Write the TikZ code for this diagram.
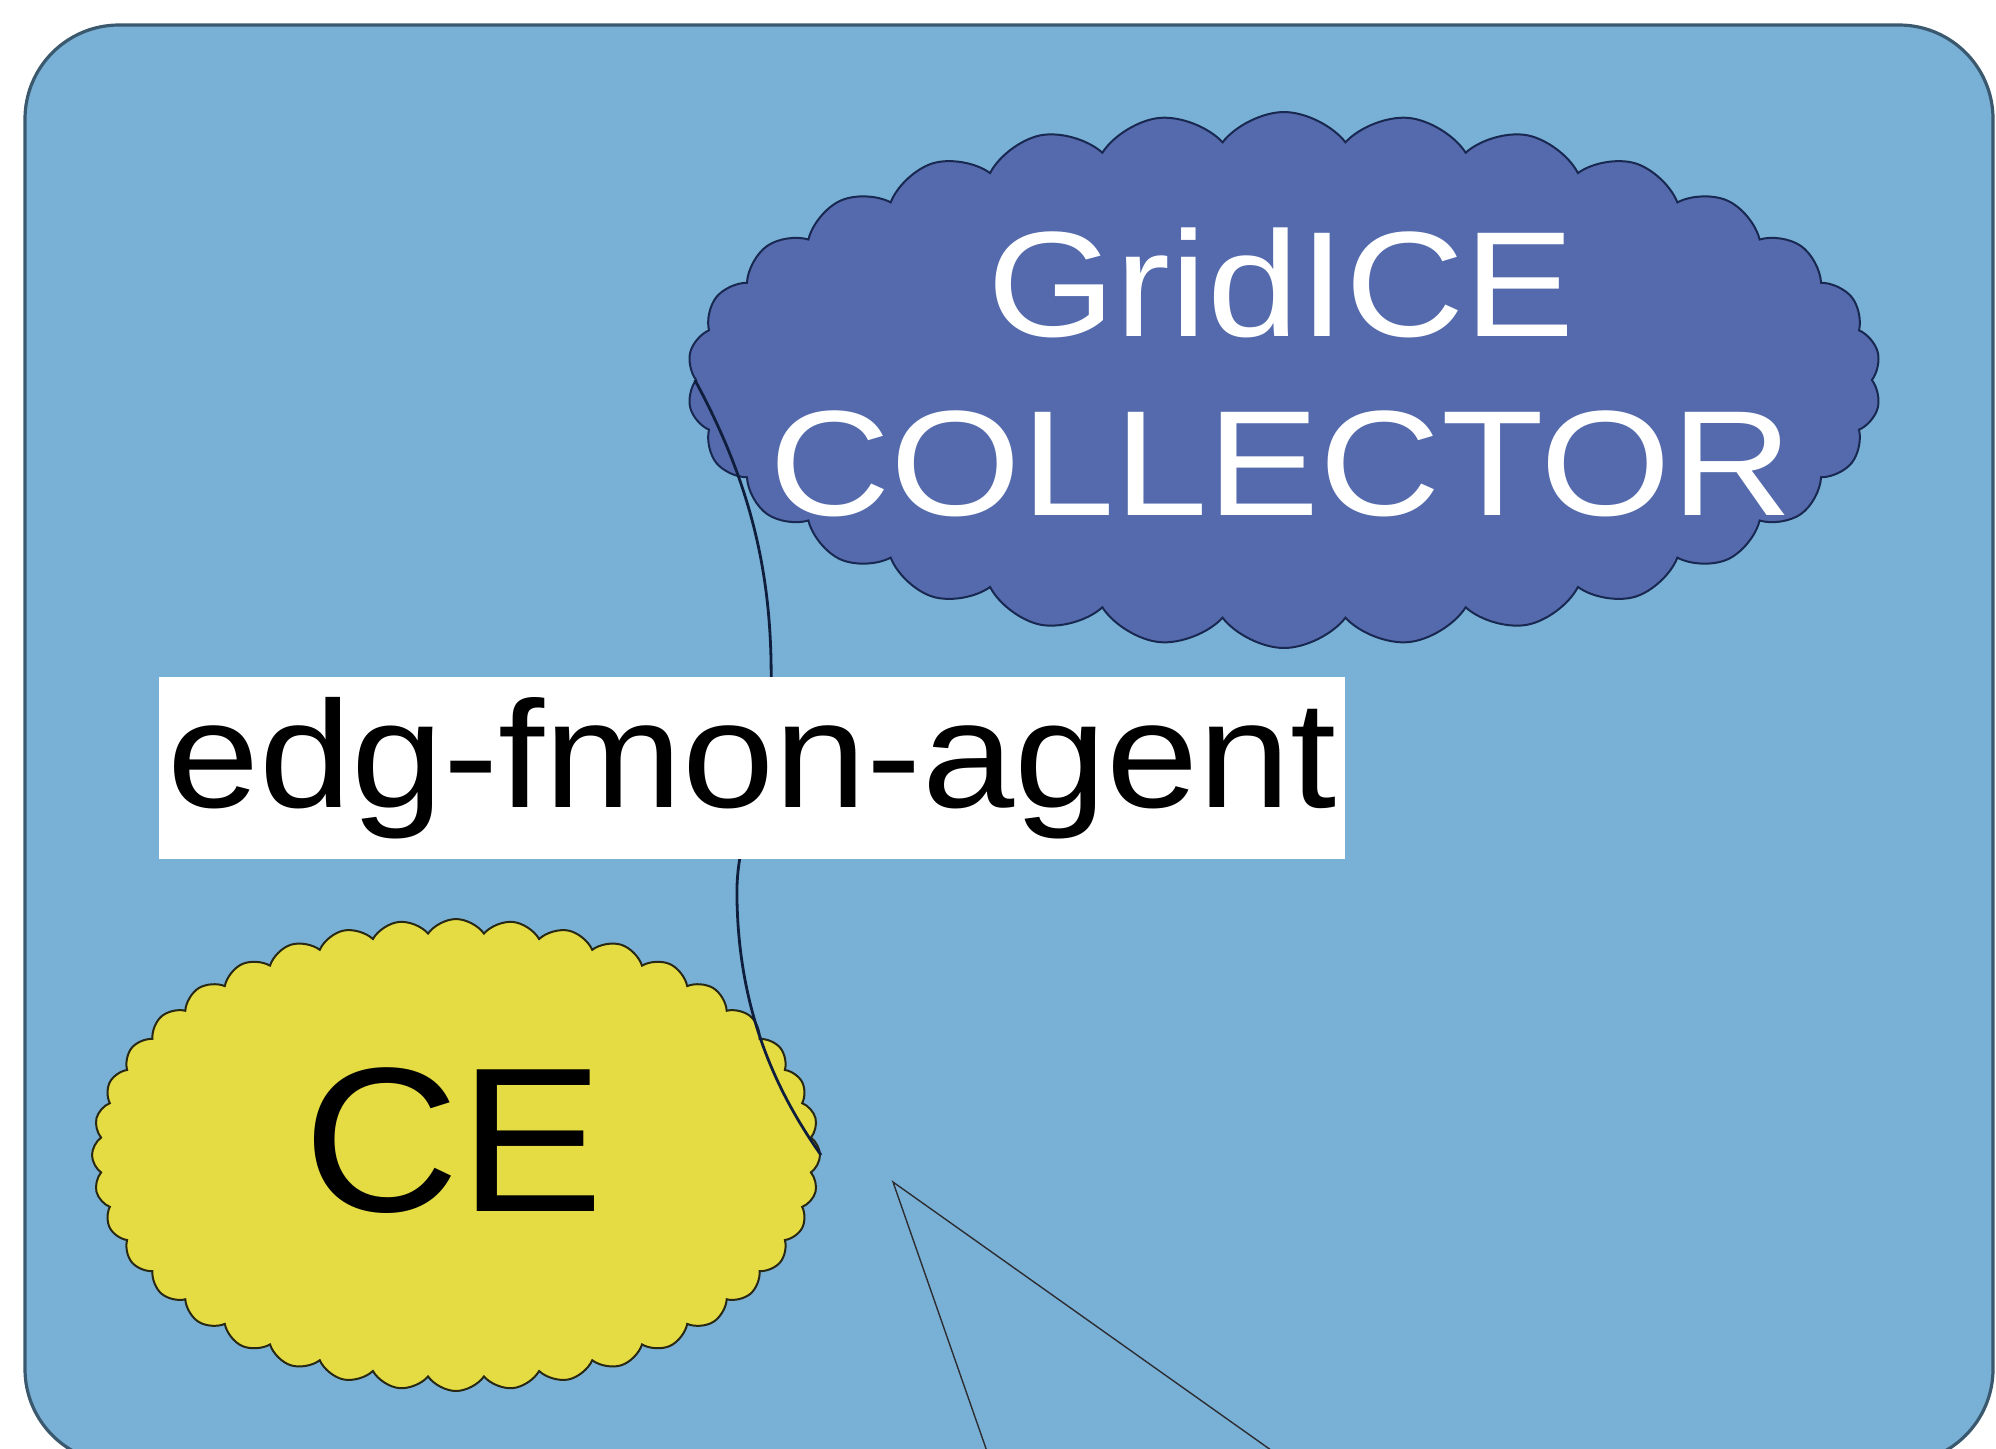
\documentclass[tikz,border=0pt]{standalone}
\usepackage{fontspec}
\usepackage{graphicx}
\setmainfont{Liberation Sans}
\usetikzlibrary{shapes.symbols}
\definecolor{bgblue}{RGB}{121,177,214}
\definecolor{bgedge}{RGB}{58,88,110}
\definecolor{cloudblue}{RGB}{84,106,172}
\definecolor{cloudedge}{RGB}{25,40,80}
\definecolor{ceyellow}{RGB}{228,220,66}
\definecolor{ceedge}{RGB}{40,40,20}
\definecolor{connnavy}{RGB}{15,30,60}
\definecolor{thingray}{RGB}{45,45,50}
\begin{document}
\begin{tikzpicture}[x=0.5pt,y=-0.5pt,
  panelbox/.style={rectangle, rounded corners=47pt, fill=bgblue, draw=bgedge, line width=1.6pt, inner sep=0pt},
  cloudbase/.style={cloud, cloud ignores aspect, inner sep=0pt, line width=1pt},
  gridcloud/.style={cloudbase, fill=cloudblue, draw=cloudedge, cloud puffs=30, cloud puff arc=105},
  cecloud/.style={cloudbase, fill=ceyellow, draw=ceedge, cloud puffs=40, cloud puff arc=110},
  conn/.style={draw=connnavy, line width=1.4pt},
  thinline/.style={draw=thingray, line width=0.7pt},
  agentbox/.style={rectangle, fill=white, inner sep=0pt},
]
\useasboundingbox (0,0) rectangle (1996,1448);
\clip (0,0) rectangle (1996,1448);
\fill[white] (0,0) rectangle (1996,1448);
% panel
\node[panelbox, minimum width=984pt, minimum height=719pt] (panel) at (1009,744) {};
% clouds
\node[gridcloud, minimum width=597pt, minimum height=268pt] (gridice) at (1284,380) {};
\node[cecloud, minimum width=364pt, minimum height=236pt] (ce) at (456,1155) {};
% texts in clouds
\node[text=white, align=center, inner sep=0pt, font=\fontsize{75}{89.5}\selectfont] (gridtxt) at (1281,372)
  {\scalebox{1.1}[1]{GridICE}\\\scalebox{1.12}[1]{COLLECTOR}};
\node[inner sep=0pt, font=\fontsize{103}{120}\selectfont] (cetxt) at (454,1141) {\scalebox{1.05}[1]{CE}};
% connector
\draw[conn] (gridice.west) .. controls (760,500) and (776,600) .. (770,720)
  .. controls (765,800) and (735,830) .. (737,900)
  .. controls (739,1010) and (775,1090) .. (ce.east);
% label box
\node[agentbox, minimum width=593pt, minimum height=91pt, font=\fontsize{76}{90}\selectfont] (agent) at (752,768)
  {\scalebox{1.09}[1]{edg-fmon-agent}};
% callout lines
\coordinate (apex) at (893,1182);
\coordinate (tl) at (990,1460);
\coordinate (tr) at (1285,1460);
\draw[thinline] (tl) -- (apex) -- (tr);
\end{tikzpicture}
\end{document}
